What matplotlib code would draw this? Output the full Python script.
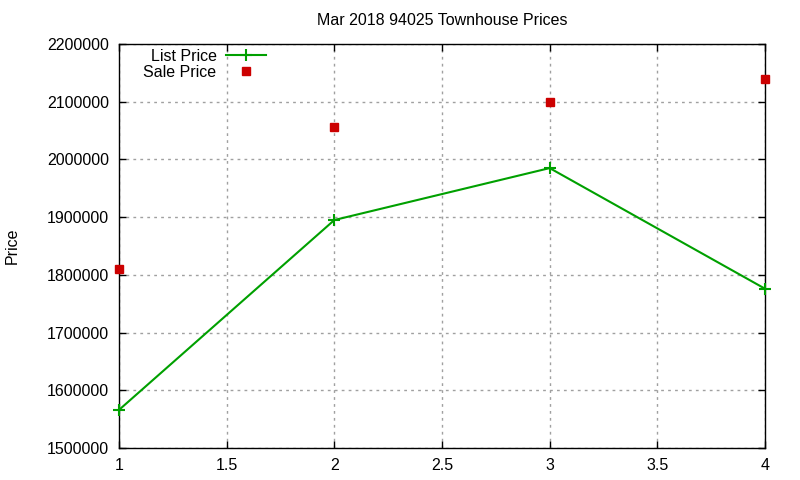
import matplotlib
matplotlib.use("Agg")
import matplotlib.pyplot as plt
from matplotlib.ticker import FuncFormatter

plt.rcParams['font.family'] = ['Liberation Sans', 'DejaVu Sans']

# data
x = [1, 2, 3, 4]
list_price = [1566000, 1895000, 1985000, 1776000]
sale_price = [1810000, 2057000, 2100000, 2139000]

xticks = [1, 1.5, 2, 2.5, 3, 3.5, 4]
yticks = [1500000, 1600000, 1700000, 1800000, 1900000, 2000000, 2100000, 2200000]

fig = plt.figure(figsize=(8, 4.8), dpi=100)
ax = fig.add_axes([119/800, 1-448/480, (765-119)/800, (448-44)/480])

ax.plot(x, list_price, color='#00a000', lw=1.5, marker='+', ms=8, mew=1.5,
        label='List Price', zorder=3, clip_on=False)
ax.plot(x, sale_price, ls='none', marker='s', ms=6, color='#cc0000',
        label='Sale Price', zorder=3, clip_on=False)

ax.set_xlim(1, 4)
ax.set_ylim(1500000, 2200000)
ax.set_xticks(xticks)
ax.set_yticks(yticks)
ax.xaxis.set_major_formatter(FuncFormatter(lambda v, p: '%g' % v))
ax.yaxis.set_major_formatter(FuncFormatter(lambda v, p: '%d' % v))
ax.tick_params(direction='in', length=5, width=1, top=True, right=True,
               labelsize=11.5, color='black', pad=7)
ax.grid(True, color='#a0a0a0', ls=(0, (2, 3)), lw=1)
for s in ax.spines.values():
    s.set_linewidth(1)

ax.set_title('Mar 2018 94025 Townhouse Prices', fontsize=11.5, pad=14)
fig.text(12/800, 1-246/480, 'Price', rotation=90, va='center', ha='center',
         fontsize=11.5)

leg = ax.legend(loc='upper left', bbox_to_anchor=(0.023, 1.012), frameon=False,
                markerfirst=False, fontsize=11.5, handlelength=2.5,
                borderaxespad=0.2, labelspacing=0.05, handletextpad=0.6)
for t in leg.get_texts():
    t.set_ha('right')

fig.savefig('out.png', dpi=100)
